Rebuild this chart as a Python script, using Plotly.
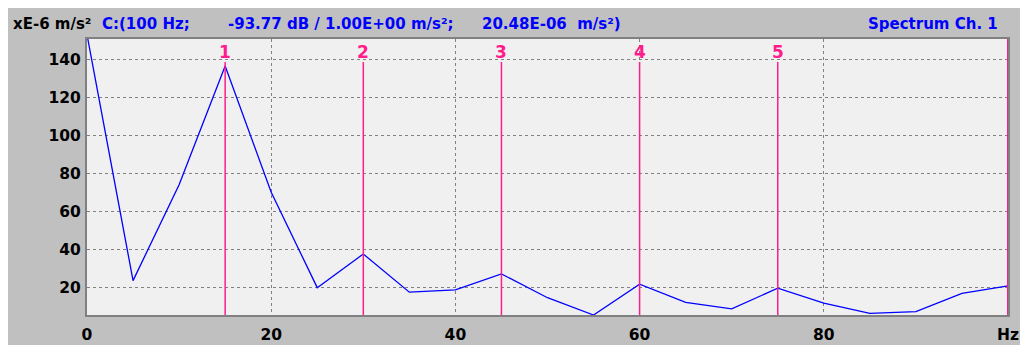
import plotly.graph_objects as go

freq_hz = [0, 5, 10, 15, 20, 25, 30, 35, 40, 45, 50, 55, 60, 65, 70, 75, 80, 85, 90, 95, 100]
accel_e6 = [153, 23.5, 74, 136.5, 70, 19.8, 37.5, 17.4, 18.6, 27, 14.5, 5.4, 21.6, 12, 8.6, 19.5, 11.6, 6.3, 7.2, 16.8, 20.7]
harmonic_hz = [15, 30, 45, 60, 75]
harmonic_labels = ["1", "2", "3", "4", "5"]
main_cursor_hz = 100
x_ticks = [0, 20, 40, 60, 80, 100]
x_ticktext = ["0", "20", "40", "60", "80", "Hz"]
y_ticks = [20, 40, 60, 80, 100, 120, 140]

PINK = "#FF1C8C"
BLUE = "#0000FF"
FONT = "DejaVu Sans"

OFF = 8  # page body margin
W, H = 1028 - OFF, 345 - OFF
L, T = 87 - OFF, 39 - OFF
R = 1028 - 1008
B = 345 - 315
pw, ph = W - L - R, H - T - B

def px(xp):
    return (xp - OFF - L) / pw

def py(yp):
    return (H - B - (yp - OFF)) / ph

fig = go.Figure()
fig.add_trace(go.Scatter(x=freq_hz, y=accel_e6, mode="lines",
                         line=dict(color=BLUE, width=1.3), hoverinfo="skip"))

shapes = []
for f in harmonic_hz:
    shapes.append(dict(type="line", xref="x", yref="paper", x0=f, x1=f, y0=0, y1=py(62),
                       line=dict(color=PINK, width=1.5)))
shapes.append(dict(type="line", xref="x", yref="paper", x0=main_cursor_hz, x1=main_cursor_hz,
                   y0=0, y1=1, line=dict(color=PINK, width=2)))

ann = []
for f, lab in zip(harmonic_hz, harmonic_labels):
    ann.append(dict(x=f, y=py(52), xref="x", yref="paper", text=lab, showarrow=False,
                    yanchor="middle",
                    font=dict(family=FONT, size=17, color=PINK, weight="bold")))

hdr_y = py(24)
hf = 15
def hdr(xpix, text, color, anchor="left"):
    ann.append(dict(x=px(xpix), y=hdr_y, xref="paper", yref="paper", text=text, showarrow=False,
                    xanchor=anchor, yanchor="middle",
                    font=dict(family=FONT, size=hf, color=color, weight="bold")))

hdr(11, "xE-6 m/s²", "black")
hdr(100, "C:(100 Hz;", BLUE)
hdr(226, "-93.77 dB / 1.00E+00 m/s²;", BLUE)
hdr(480, "20.48E-06  m/s²)", BLUE)
hdr(1000, "Spectrum Ch. 1", BLUE, "right")

fig.update_layout(
    width=W, height=H,
    margin=dict(l=L, r=R, t=T, b=B, pad=0),
    paper_bgcolor="#C0C0C0",
    plot_bgcolor="#F0F0F0",
    showlegend=False,
    shapes=shapes,
    annotations=ann,
    font=dict(family=FONT, size=15.5, color="black", weight="bold"),
)
fig.update_xaxes(range=[0, 100], tickvals=x_ticks, ticktext=x_ticktext, showgrid=True,
                 gridcolor="#808080", griddash="3px,3px", gridwidth=1,
                 showline=True, linecolor="#808080", linewidth=2, mirror=True,
                 ticks="", ticklabelstandoff=4, zeroline=False, fixedrange=True, automargin=False)
fig.update_yaxes(range=[5.4, 150.7], tickvals=y_ticks, showgrid=True,
                 gridcolor="#808080", griddash="3px,3px", gridwidth=1,
                 showline=True, linecolor="#808080", linewidth=2, mirror=True,
                 ticks="", ticklabelstandoff=1, zeroline=False, fixedrange=True, automargin=False)

fig.write_html("out.html")
